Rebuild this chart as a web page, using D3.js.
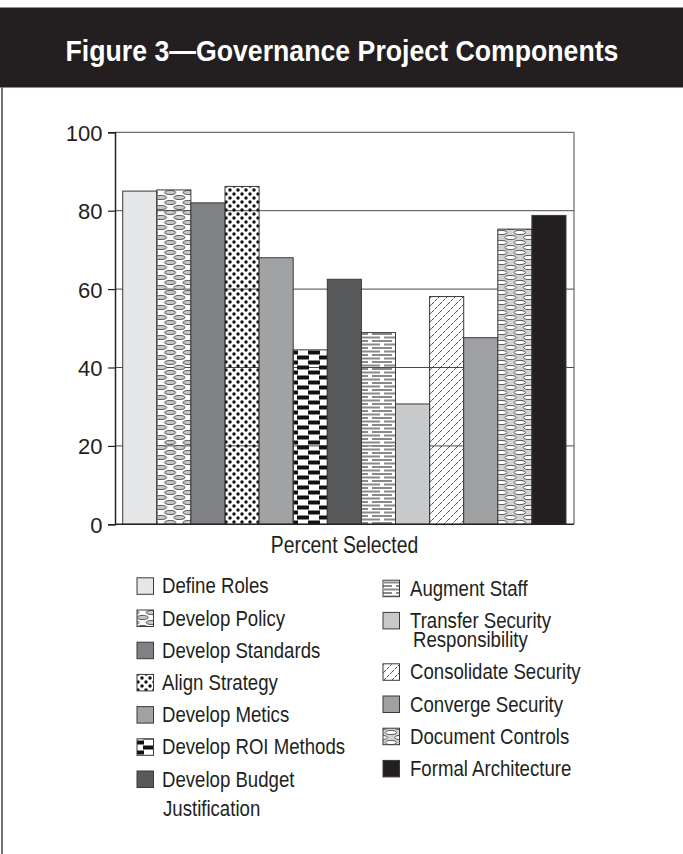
<!DOCTYPE html>
<html><head><meta charset="utf-8">
<script src="https://cdn.jsdelivr.net/npm/d3@7"></script>
<style>
body{margin:0;background:#fff;}
svg{display:block;font-family:"Liberation Sans",Arial,Helvetica,sans-serif;}
</style>
</head><body>
<svg id="c" width="683" height="854"></svg>
<script>
// ---- data ----
const title = "Figure 3\u2014Governance Project Components";
const xLabel = "Percent Selected";
const categories = ["Define Roles","Develop Policy","Develop Standards","Align Strategy","Develop Metics","Develop ROI Methods","Develop Budget Justification","Augment Staff","Transfer Security Responsibility","Consolidate Security","Converge Security","Document Controls","Formal Architecture"];
const values = [85.0, 85.3, 82.0, 86.2, 68.0, 44.5, 62.5, 48.9, 30.7, 58.1, 47.6, 75.3, 78.8];
const fills = ["#e6e7e8","url(#p-policy)","#808184","url(#p-dots)","#a1a2a4","url(#p-brick)","#58595b","url(#p-stripe)","#c8c9cb","url(#p-hatch)","#9fa0a2","url(#p-doc)","#231f20"];
const yTicks = [0, 20, 40, 60, 80, 100];
const legendLeft = [["Define Roles"],["Develop Policy"],["Develop Standards"],["Align Strategy"],["Develop Metics"],["Develop ROI Methods"],["Develop Budget","Justification"]];
const legendRight = [["Augment Staff"],["Transfer Security","Responsibility"],["Consolidate Security"],["Converge Security"],["Document Controls"],["Formal Architecture"]];

const svg = d3.select("#c");
const W = 683, H = 854;

// condensed text helper (horizontal squeeze to mimic Helvetica Condensed)
function ntext(parent, x, yy, size, sx, str, anchor){
  return parent.append("text").attr("transform",`translate(${x},${yy}) scale(${sx},1)`)
    .attr("text-anchor", anchor || "start").attr("font-size", size).attr("fill","#231f20").text(str);
}

// ---- patterns ----
const defs = svg.append("defs");
function pat(id, w, h){ return defs.append("pattern").attr("id", id).attr("patternUnits","userSpaceOnUse").attr("width", w).attr("height", h); }
function ovals(p, w, h, fill){
  const pts = [[w/4,h/4],[3*w/4,3*h/4],[w/4+w,h/4],[w/4-w,h/4],[3*w/4-w,3*h/4],[3*w/4+w,3*h/4]];
  pts.forEach(c => p.append("ellipse").attr("cx",c[0]).attr("cy",c[1]).attr("rx",5.6).attr("ry",2.1)
    .attr("fill",fill).attr("stroke","#333").attr("stroke-width",0.8));
}
let p = pat("p-policy", 18.4, 10);
ovals(p, 18.4, 10, "#c8c8c8");
p = pat("p-dots", 8, 8);
[[2,2],[6,6]].forEach(c => p.append("circle").attr("cx",c[0]).attr("cy",c[1]).attr("r",1.75).attr("fill","#111"));
p = pat("p-brick", 22, 10);
p.append("rect").attr("x",0).attr("y",0.5).attr("width",12).attr("height",4).attr("fill","#111");
p.append("rect").attr("x",11).attr("y",5.5).attr("width",12).attr("height",4).attr("fill","#111");
p.append("rect").attr("x",-11).attr("y",5.5).attr("width",12).attr("height",4).attr("fill","#111");
p = pat("p-stripe", 24, 7);
p.append("rect").attr("x",0).attr("y",0.5).attr("width",20).attr("height",2).attr("fill","#8a8a8a");
p.append("rect").attr("x",0).attr("y",4).attr("width",8).attr("height",2).attr("fill","#8a8a8a");
p.append("rect").attr("x",12).attr("y",4).attr("width",12).attr("height",2).attr("fill","#8a8a8a");
p = pat("p-hatch", 8, 8);
p.append("path").attr("d","M0,8 L8,0 M-2,2 L2,-2 M6,10 L10,6").attr("stroke","#333").attr("stroke-width",0.9).attr("stroke-dasharray","3 1");
p = pat("p-doc", 18.4, 10);
p.append("rect").attr("width",18.4).attr("height",10).attr("fill","#d2d3d4");
ovals(p, 18.4, 10, "#fff");

// ---- title band ----
svg.append("rect").attr("x",0).attr("y",7.5).attr("width",W).attr("height",80).attr("fill","#231f20");
svg.append("text").attr("transform","translate(342,61) scale(0.92,1)").attr("text-anchor","middle")
  .attr("font-weight","bold").attr("font-size",29).attr("fill","#fff").text(title);
svg.append("line").attr("x1",2).attr("x2",2).attr("y1",87.5).attr("y2",H).attr("stroke","#444").attr("stroke-width",1.5);

// ---- scales ----
const plotL = 115, plotR = 574;
const y = d3.scaleLinear().domain([0,100]).range([524.3,132.3]);
const x = d3.scaleBand().domain(categories).range([122.7,566]).padding(0);

// gridlines
svg.append("g").selectAll("line").data(yTicks.filter(d=>d>0)).join("line")
  .attr("x1",plotL).attr("x2",plotR).attr("y1",d=>y(d)).attr("y2",d=>y(d))
  .attr("stroke","#4a4a4a").attr("stroke-width",1);

// bars
svg.append("g").selectAll("rect").data(values).join("rect")
  .attr("x",(d,i)=>x(categories[i])).attr("width",x.bandwidth())
  .attr("y",d=>y(d)).attr("height",d=>y(0)-y(d))
  .attr("fill",(d,i)=>fills[i]).attr("stroke","#3a3a3a").attr("stroke-width",1);

// frame
svg.append("line").attr("x1",plotR).attr("x2",plotR).attr("y1",y(100)).attr("y2",y(0)).attr("stroke","#4a4a4a").attr("stroke-width",1);
svg.append("line").attr("x1",plotL).attr("x2",plotR).attr("y1",y(0)).attr("y2",y(0)).attr("stroke","#222").attr("stroke-width",1.5);

// y axis
const ax = svg.append("g").attr("transform",`translate(${plotL},0)`)
  .call(d3.axisLeft(y).tickValues(yTicks).tickSize(7).tickPadding(12).tickFormat(d3.format("d")));
ax.select(".domain").attr("stroke","#222").attr("stroke-width",1.5);
ax.selectAll(".tick line").attr("stroke","#222").attr("stroke-width",1.2);
ax.selectAll(".tick text").attr("font-size",22).attr("fill","#231f20").attr("font-family",null)
  .attr("x",-12.5).attr("dy","0.36em");

// x label
ntext(svg, (plotL+plotR)/2, 553, 24.5, 0.79, xLabel, "middle");

// legend
function legendCol(items, sx, tx, by, step, lineGap, indent, startIdx){
  let cy = by;
  items.forEach((lines, k) => {
    const idx = startIdx + k;
    const g = svg.append("g");
    g.append("rect").attr("x",sx).attr("y",cy-15.5).attr("width",16.5).attr("height",16.5)
      .attr("fill",fills[idx]).attr("stroke","#3a3a3a").attr("stroke-width",1);
    lines.forEach((ln, j) => ntext(g, tx + (j>0 ? indent : 0), cy + j*lineGap, 23, 0.81, ln));
    cy += step + (lines.length-1)*(lineGap<25 ? lineGap : 0);
  });
}
legendCol(legendLeft, 137, 162, 593.3, 32.2, 29.5, 1, 0);
legendCol(legendRight, 383, 410, 595.7, 32.2, 19.2, 3, 7);
</script>
</body></html>
